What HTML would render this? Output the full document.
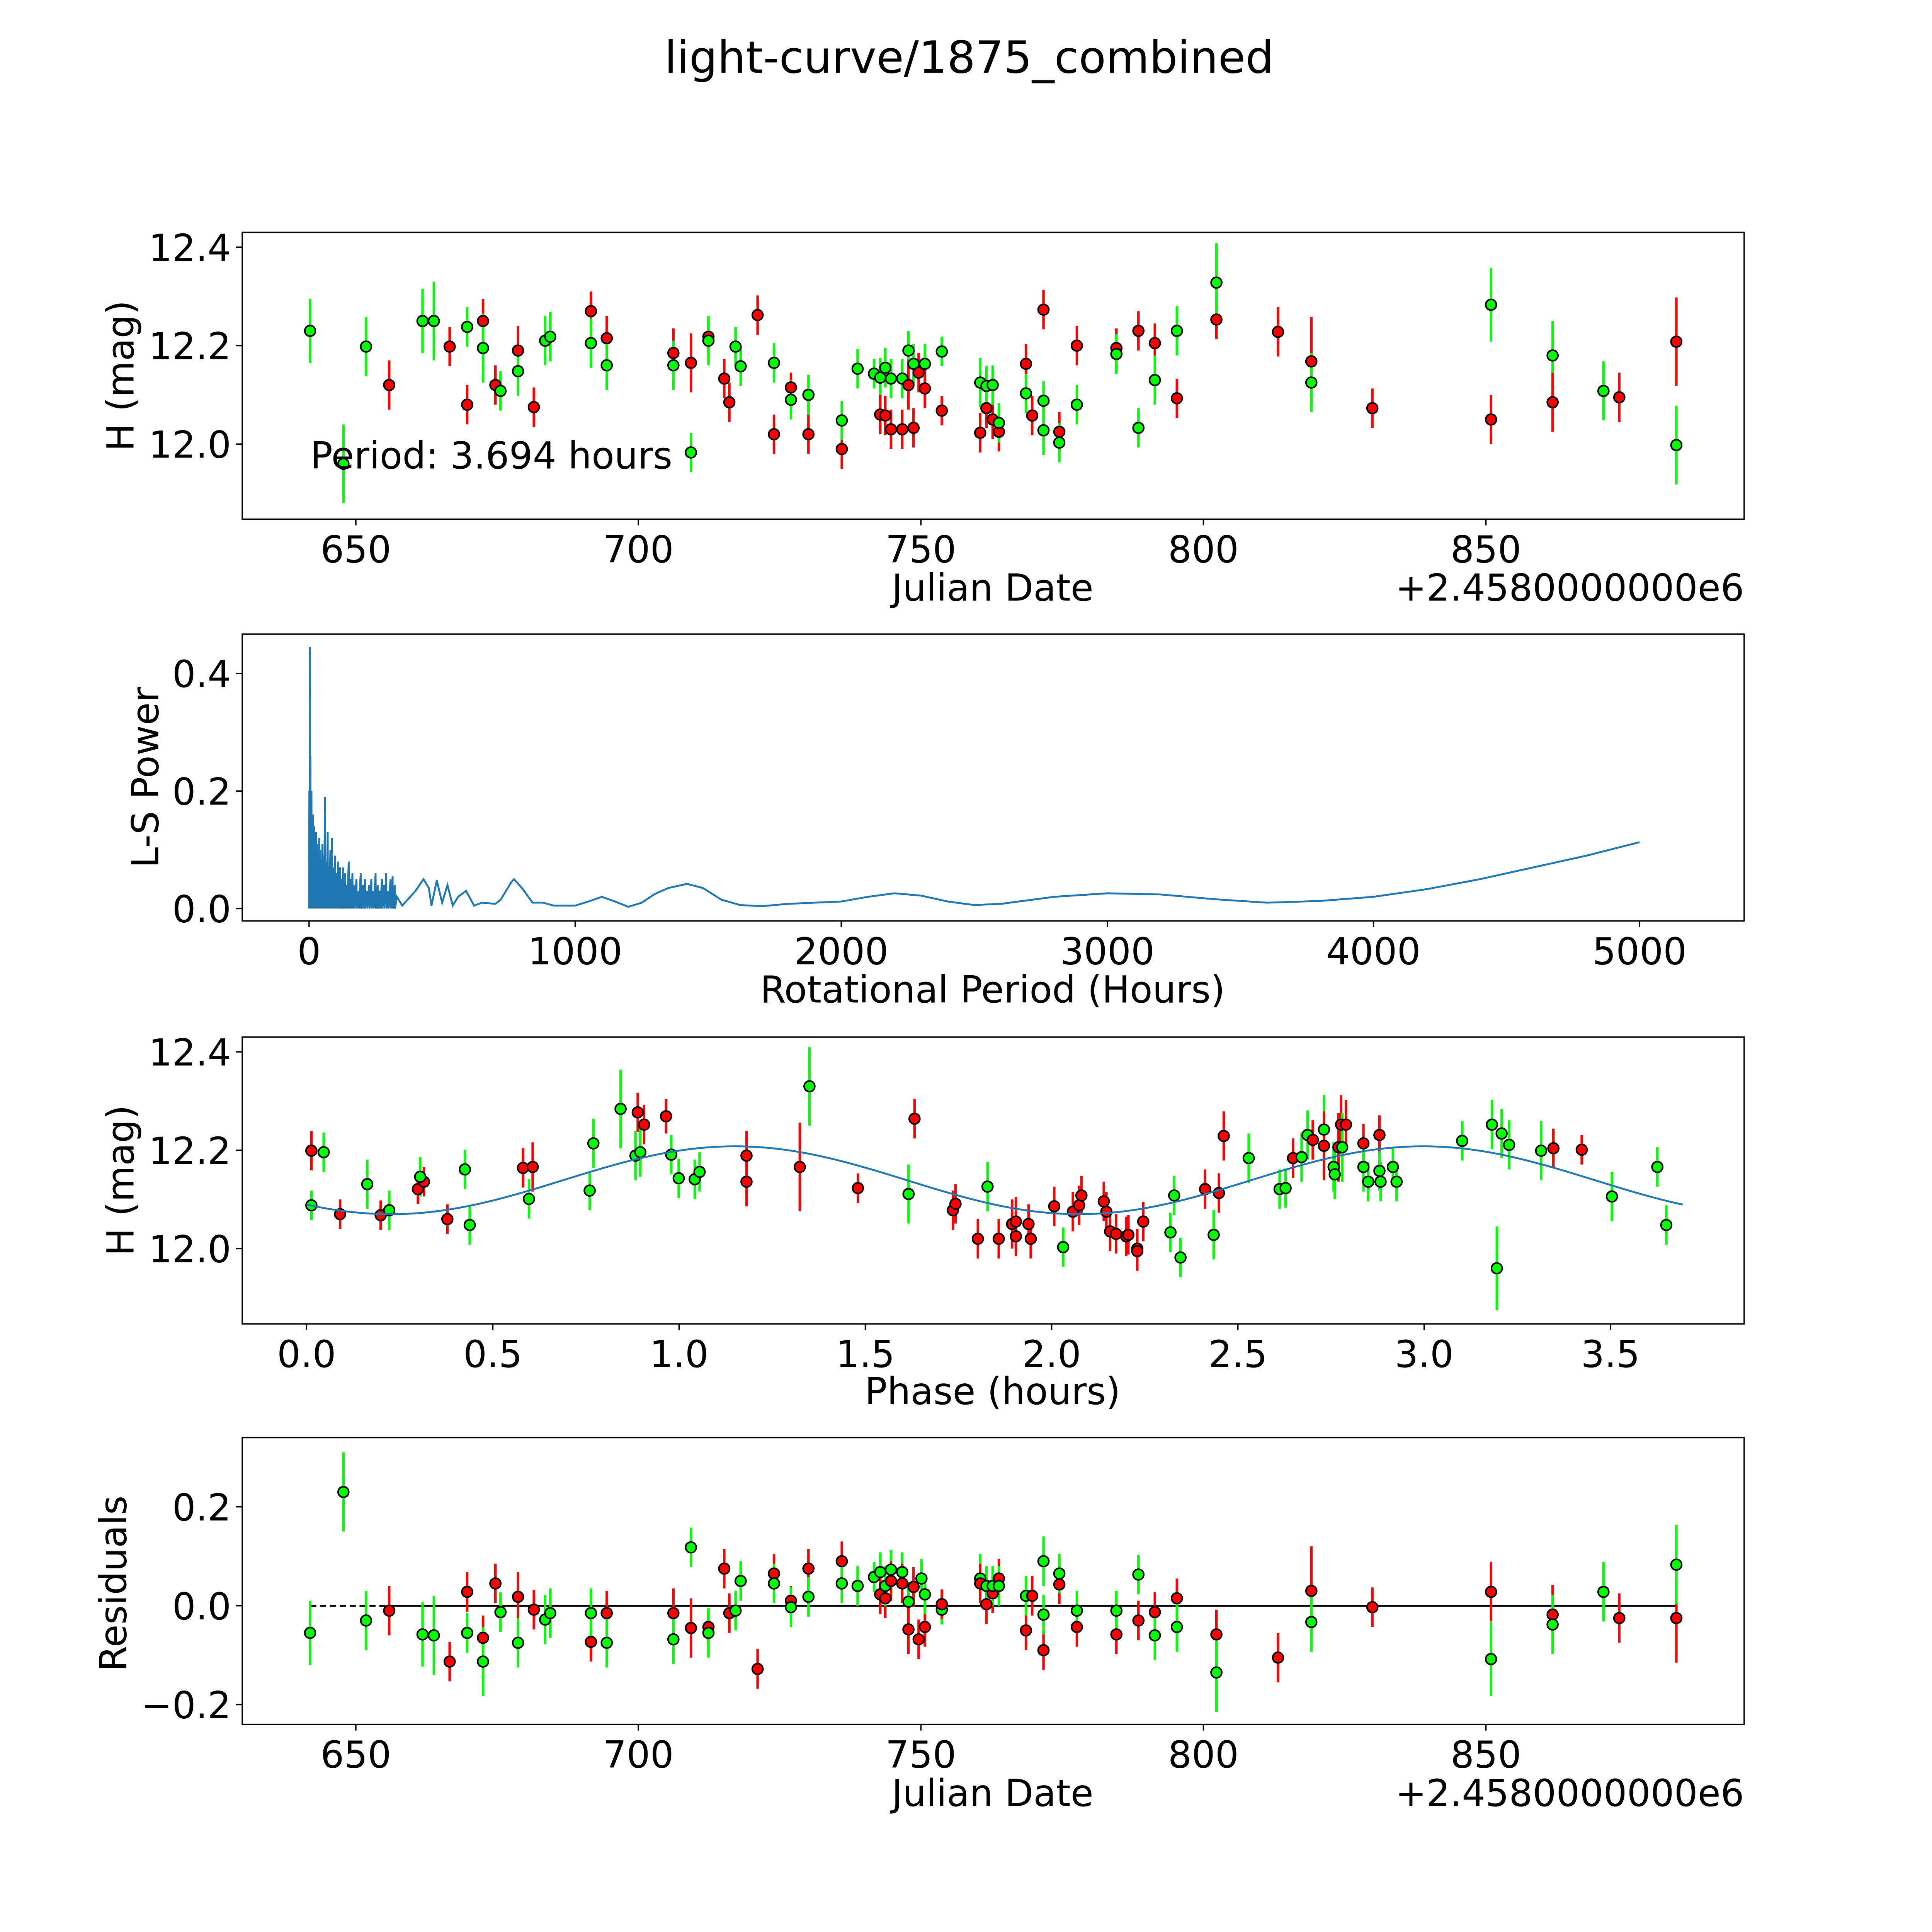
<!DOCTYPE html>
<html><head><meta charset="utf-8"><style>
html,body{margin:0;padding:0;background:#fff;overflow:hidden;width:5400px;height:5400px;}
svg{display:block;}
text{font-family:"DejaVu Sans","Liberation Sans",sans-serif;fill:#000;}
</style></head><body>
<svg id="fig" xmlns="http://www.w3.org/2000/svg" width="5400" height="5400" viewBox="0 0 1688 1688">
<rect width="1688" height="1688" fill="#fff"/>
<text x="784" y="59" font-size="36" text-anchor="middle">light-curve/1875_combined</text>
</svg>
<script>
// ---------- Panel 1: light curve ----------
const jd=[641.9,647.8,651.8,655.9,661.8,663.8,666.6,669.7,669.7,672.5,672.5,674.7,675.6,678.7,678.7,681.5,683.5,684.4,691.6,691.6,694.4,694.4,706.2,706.2,709.3,709.3,712.4,712.4,715.2,716.1,717.2,718.1,721.1,724.0,724.0,727.0,727.0,730.1,730.1,736.0,736.0,738.8,741.7,742.8,742.8,743.7,743.7,744.7,744.7,746.7,746.7,747.8,747.8,748.7,748.7,749.6,750.7,750.7,753.7,753.7,760.5,760.5,761.6,761.6,762.7,762.7,763.8,763.8,768.6,768.6,769.7,771.7,771.7,771.7,774.5,774.5,777.6,777.6,784.6,784.6,788.5,788.5,791.4,791.4,795.3,795.3,802.3,802.3,813.2,819.1,819.1,829.9,850.9,850.9,861.8,861.8,870.8,873.6,883.7,883.7];
const mag=[12.23,11.96,12.198,12.12,12.25,12.25,12.198,12.08,12.238,12.25,12.195,12.12,12.108,12.19,12.148,12.075,12.21,12.218,12.27,12.205,12.215,12.16,12.185,12.16,12.165,11.983,12.218,12.21,12.133,12.085,12.198,12.158,12.262,12.02,12.165,12.115,12.09,12.02,12.1,11.99,12.048,12.153,12.143,12.135,12.06,12.155,12.058,12.133,12.03,12.133,12.03,12.19,12.12,12.163,12.033,12.145,12.163,12.113,12.188,12.068,12.125,12.023,12.073,12.118,12.05,12.12,12.025,12.043,12.163,12.103,12.058,12.273,12.088,12.028,12.025,12.003,12.2,12.08,12.195,12.183,12.23,12.033,12.205,12.13,12.093,12.23,12.253,12.328,12.228,12.168,12.125,12.073,12.283,12.05,12.18,12.085,12.108,12.095,12.208,11.998];
const magErr=[0.065,0.08,0.06,0.05,0.065,0.08,0.04,0.04,0.04,0.045,0.07,0.04,0.04,0.05,0.05,0.04,0.05,0.05,0.04,0.05,0.045,0.05,0.05,0.05,0.06,0.04,0.035,0.05,0.04,0.04,0.04,0.04,0.04,0.04,0.04,0.03,0.04,0.04,0.04,0.04,0.04,0.04,0.03,0.04,0.04,0.04,0.04,0.04,0.04,0.04,0.04,0.04,0.05,0.04,0.04,0.04,0.04,0.04,0.03,0.03,0.05,0.04,0.04,0.04,0.04,0.04,0.04,0.04,0.04,0.04,0.04,0.04,0.04,0.05,0.04,0.04,0.04,0.04,0.04,0.04,0.04,0.04,0.04,0.05,0.04,0.05,0.04,0.08,0.05,0.09,0.06,0.04,0.075,0.05,0.07,0.06,0.06,0.05,0.09,0.08];
const magCol=['g','g','g','r','g','g','r','r','g','r','g','r','g','r','g','r','g','g','r','g','r','g','r','g','r','g','r','g','r','r','g','g','r','r','g','r','g','r','g','r','g','g','g','g','r','g','r','g','r','g','r','g','r','g','r','r','g','r','g','r','g','r','r','g','r','g','r','g','r','g','r','r','g','g','r','g','r','g','r','g','r','g','r','g','r','g','r','g','r','r','g','r','g','r','g','r','g','r','r','g'];

// ---------- Panel 2: periodogram ----------
const spikePeriods=[1,3,5,7,9,11,14,17,20,23,26,30,34,38,42,46,50,55,60,65,70,75,80,86,92,98,104,110,116,122,128,135,142,149,156,163,170,178,186,194,202,210,218,226,234,242,250,258,266,274,282,290,298,306,314,322];
const spikePower=[0.2,0.445,0.26,0.17,0.2,0.13,0.16,0.12,0.14,0.1,0.13,0.11,0.09,0.12,0.1,0.08,0.11,0.09,0.19,0.08,0.13,0.07,0.1,0.12,0.07,0.09,0.06,0.08,0.07,0.05,0.07,0.06,0.04,0.08,0.05,0.06,0.04,0.05,0.03,0.06,0.04,0.05,0.03,0.04,0.05,0.03,0.06,0.04,0.03,0.05,0.04,0.06,0.03,0.05,0.055,0.04];
const lsPeriod=[330,350,400,430,450,460,480,500,520,540,560,590,620,650,700,720,760,770,800,840,880,920,960,1000,1050,1100,1150,1200,1250,1300,1350,1420,1480,1550,1620,1700,1800,1900,2000,2100,2200,2300,2400,2500,2600,2800,3000,3200,3400,3600,3800,4000,4200,4400,4600,4800,5000];
const lsPower=[0.02,0.005,0.03,0.05,0.035,0.005,0.048,0.01,0.04,0.005,0.02,0.03,0.005,0.01,0.008,0.015,0.045,0.05,0.035,0.01,0.01,0.005,0.005,0.005,0.012,0.02,0.012,0.003,0.01,0.025,0.035,0.042,0.035,0.015,0.006,0.004,0.008,0.01,0.012,0.02,0.026,0.022,0.012,0.006,0.008,0.02,0.026,0.024,0.016,0.01,0.013,0.02,0.033,0.05,0.07,0.09,0.113];

// ---------- Panel 3: phase-folded ----------
const phase=[0.013,0.046,0.013,0.090,0.163,0.199,0.222,0.299,0.315,0.305,0.378,0.425,0.438,0.581,0.607,0.597,0.760,0.770,0.843,0.889,0.906,0.883,0.896,0.965,0.979,0.999,1.042,1.055,1.181,1.181,1.324,1.350,1.480,1.616,1.632,1.735,1.742,1.828,1.802,1.858,1.894,1.904,1.904,1.938,1.944,2.007,2.031,2.057,2.074,2.080,2.140,2.147,2.157,2.173,2.200,2.206,2.230,2.230,2.246,2.319,2.329,2.346,2.412,2.435,2.449,2.462,2.529,2.612,2.628,2.648,2.671,2.687,2.701,2.731,2.731,2.757,2.760,2.770,2.777,2.790,2.780,2.837,2.837,2.850,2.880,2.880,2.883,2.916,2.926,3.102,3.182,3.195,3.208,3.228,3.314,3.347,3.423,3.504,3.626,3.650];
const phaseMag=[12.199,12.196,12.088,12.070,12.131,12.068,12.078,12.121,12.136,12.146,12.060,12.161,12.048,12.164,12.166,12.101,12.118,12.214,12.284,12.277,12.252,12.189,12.196,12.269,12.191,12.143,12.141,12.156,12.189,12.136,12.166,12.330,12.123,12.111,12.264,12.078,12.091,12.126,12.020,12.020,12.050,12.055,12.025,12.050,12.020,12.086,12.003,12.075,12.088,12.108,12.096,12.075,12.035,12.030,12.025,12.028,12.000,11.995,12.055,12.033,12.108,11.982,12.121,12.028,12.113,12.229,12.184,12.121,12.123,12.184,12.186,12.231,12.221,12.242,12.209,12.166,12.151,12.206,12.252,12.252,12.206,12.214,12.166,12.136,12.231,12.158,12.136,12.166,12.136,12.219,12.252,11.960,12.234,12.211,12.199,12.204,12.201,12.106,12.166,12.048];
const phaseErr=[0.04,0.04,0.03,0.03,0.05,0.03,0.04,0.03,0.03,0.04,0.03,0.04,0.04,0.04,0.05,0.04,0.04,0.05,0.08,0.04,0.04,0.05,0.05,0.035,0.04,0.04,0.04,0.04,0.05,0.05,0.09,0.08,0.03,0.06,0.04,0.04,0.04,0.05,0.04,0.04,0.05,0.05,0.04,0.04,0.04,0.04,0.04,0.04,0.04,0.04,0.04,0.04,0.04,0.04,0.04,0.04,0.04,0.04,0.04,0.04,0.04,0.04,0.04,0.05,0.04,0.05,0.05,0.04,0.04,0.04,0.05,0.05,0.04,0.07,0.07,0.05,0.05,0.07,0.06,0.05,0.07,0.04,0.05,0.04,0.04,0.04,0.04,0.04,0.04,0.04,0.05,0.085,0.05,0.05,0.06,0.04,0.03,0.05,0.04,0.04];
const phaseCol=['r','g','g','r','g','r','g','r','r','g','r','g','g','r','r','g','g','g','g','r','r','g','g','r','g','g','g','g','r','r','r','g','r','g','r','r','r','g','r','r','r','r','r','r','r','r','g','r','r','r','r','r','r','r','r','r','r','r','r','g','g','g','r','g','r','r','g','g','g','r','g','g','r','g','r','g','g','r','r','r','g','r','g','g','r','g','g','g','g','g','g','g','g','g','g','r','r','g','g','g'];
const modelMean=12.139, modelAmp=0.069, modelPeak=1.15, modelHalfPeriod=1.847, foldPeriod=3.694;

// ---------- Panel 4: residuals ----------
const resJd=[641.9,647.8,651.8,655.9,661.8,663.8,666.6,669.7,669.7,672.5,672.5,674.7,675.6,678.7,678.7,681.5,683.5,684.4,691.6,691.6,694.4,694.4,706.2,706.2,709.3,709.3,712.4,712.4,715.2,716.1,717.2,718.1,721.1,724,724,727,727,730.1,730.1,736,736,738.8,741.7,742.8,742.8,743.7,743.7,744.7,744.7,746.7,746.7,747.8,747.8,748.7,749.6,750.1,750.7,750.7,753.7,753.7,760.5,760.5,761.6,761.6,762.7,762.7,763.8,763.8,768.6,768.6,769.7,771.7,771.7,771.7,774.5,774.5,777.6,777.6,784.6,784.6,788.5,788.5,791.4,791.4,795.3,795.3,802.3,802.3,813.2,819.1,819.1,829.9,850.9,850.9,861.8,861.8,870.8,873.6,883.7,883.7];
const resVal=[-0.055,0.23,-0.03,-0.01,-0.058,-0.06,-0.113,0.028,-0.055,-0.065,-0.113,0.045,-0.013,0.018,-0.075,-0.008,-0.028,-0.015,-0.073,-0.015,-0.015,-0.075,-0.015,-0.068,-0.045,0.118,-0.043,-0.055,0.075,-0.015,-0.01,0.05,-0.128,0.065,0.045,0.01,-0.003,0.075,0.018,0.09,0.045,0.04,0.058,0.068,0.023,0.015,0.04,0.073,0.05,0.068,0.045,0.008,-0.048,0.038,-0.068,0.055,-0.043,0.023,-0.008,0.003,0.055,0.045,0.003,0.04,0.025,0.04,0.055,0.04,-0.05,0.02,0.02,-0.09,0.09,-0.018,0.043,0.065,-0.043,-0.01,-0.058,-0.01,-0.03,0.063,-0.013,-0.06,0.015,-0.043,-0.058,-0.135,-0.105,0.03,-0.033,-0.003,0.028,-0.108,-0.018,-0.038,0.028,-0.025,-0.025,0.083];
const resErr=[0.065,0.08,0.06,0.05,0.065,0.08,0.04,0.04,0.04,0.045,0.07,0.04,0.04,0.05,0.05,0.04,0.05,0.05,0.04,0.05,0.045,0.05,0.05,0.05,0.06,0.04,0.035,0.05,0.04,0.04,0.04,0.04,0.04,0.04,0.04,0.03,0.04,0.04,0.04,0.04,0.04,0.04,0.03,0.04,0.04,0.04,0.04,0.04,0.04,0.04,0.04,0.04,0.05,0.04,0.04,0.04,0.04,0.04,0.03,0.03,0.05,0.04,0.04,0.04,0.04,0.04,0.04,0.04,0.04,0.04,0.04,0.04,0.05,0.04,0.04,0.04,0.04,0.04,0.04,0.04,0.04,0.04,0.04,0.05,0.04,0.05,0.05,0.08,0.05,0.09,0.06,0.04,0.06,0.075,0.06,0.06,0.06,0.05,0.09,0.08];
const resCol=['g','g','g','r','g','g','r','r','g','r','g','r','g','r','g','r','g','g','r','g','r','g','r','g','r','g','r','g','r','r','g','g','r','r','g','r','g','r','g','r','g','g','g','g','r','r','g','g','r','g','r','g','r','r','r','g','r','g','g','r','g','r','r','g','r','g','r','g','r','g','r','r','g','g','r','g','r','g','r','g','r','g','r','g','r','g','r','g','r','r','g','r','r','g','r','g','g','r','r','g'];

const xTicksJd=[650,700,750,800,850];
const yTicksMag=[12.0,12.2,12.4];
const xTicksLs=[0,1000,2000,3000,4000,5000];
const yTicksLs=[0.0,0.2,0.4];
const xTicksPhase=[0,0.5,1,1.5,2,2.5,3,3.5];
const yTicksRes=[-0.2,0.0,0.2];

const NS='http://www.w3.org/2000/svg';
const svg=document.getElementById('fig');
function mk(tag,attrs,parent){const e=document.createElementNS(NS,tag);for(const k in attrs)e.setAttribute(k,attrs[k]);(parent||svg).appendChild(e);return e;}
const COL={r:'#ff0000',g:'#00ff00'};
const L=196,R=1411,H=232,FS=30;

function makeAxis(name,top,xmin,xmax,ymin,ymax){
  const g=mk('g',{});
  
  
  const ax={g,top,bot:top+H,
    x:v=>L+(v-xmin)/(xmax-xmin)*(R-L),
    y:v=>top+H-(v-ymin)/(ymax-ymin)*H};
  return ax;
}
function frame(ax){
  const r=mk('rect',{x:L,y:ax.top,width:R-L,height:H,fill:'none',stroke:'#000','stroke-width':1.1},ax.g);
  
  
}
function ticks(ax,xt,xfmt,yt,yfmt){
  xt.forEach(v=>{const px=ax.x(v);
    mk('line',{x1:px,x2:px,y1:ax.bot,y2:ax.bot+5,stroke:'#000','stroke-width':1.1},ax.g);
    const t=mk('text',{x:px,y:ax.bot+35,'font-size':FS,'text-anchor':'middle'},ax.g);t.textContent=xfmt(v);
    
    });
  yt.forEach(v=>{const py=ax.y(v);
    mk('line',{x1:L-5,x2:L,y1:py,y2:py,stroke:'#000','stroke-width':1.1},ax.g);
    const t=mk('text',{x:L-9,y:py+11,'font-size':FS,'text-anchor':'end'},ax.g);t.textContent=yfmt(v);
    
    });
}
function label(ax,txt,x,y,rot,name,anchor){
  const t=mk('text',{x,y,'font-size':FS,'text-anchor':anchor||'middle'},ax.g);
  if(rot)t.setAttribute('transform','rotate(-90 '+x+' '+y+')');
  t.textContent=txt;
  
  
}
function errPoints(ax,xs,ys,es,cs,name){
  const g=mk('g',{},ax.g);
  
  
  xs.forEach((v,i)=>{const px=ax.x(v);
    const l=mk('line',{x1:px,x2:px,y1:ax.y(ys[i]-es[i]),y2:ax.y(ys[i]+es[i]),stroke:COL[cs[i]],'stroke-width':2},g);
    
    });
  xs.forEach((v,i)=>{
    const c=mk('circle',{cx:ax.x(v),cy:ax.y(ys[i]),r:4.3,fill:COL[cs[i]],stroke:'#000','stroke-width':1.3},g);
    
    });
}
const f1=v=>v.toFixed(1), f0=v=>String(v), fm=v=>(v<0?'\u2212':'')+Math.abs(v).toFixed(1);

// Panel 1
const a1=makeAxis('light-curve-panel',188,629.9,895.7,11.8475,12.43);
frame(a1);ticks(a1,xTicksJd,f0,yTicksMag,f1);
errPoints(a1,jd,mag,magErr,magCol,'light-curve-points');
label(a1,'Period: 3.694 hours',251,379,false,'period-annotation','start');
label(a1,'Julian Date',803,486,false,'x-axis-title');
label(a1,'+2.4580000000e6',1411,486,false,'x-offset-text','end');
label(a1,'H (mag)',108,304,true,'y-axis-title');

// Panel 2
const a2=makeAxis('periodogram-panel',513,-251,5393,-0.021,0.467);
frame(a2);ticks(a2,xTicksLs,f0,yTicksLs,f1);
let pts=[[0,0]];
spikePeriods.forEach((p,i)=>{pts.push([p,spikePower[i]]);pts.push([p+1,0]);});
lsPeriod.forEach((p,i)=>pts.push([p,lsPower[i]]));
const pl=mk('polyline',{points:pts.map(q=>a2.x(q[0]).toFixed(2)+','+a2.y(q[1]).toFixed(2)).join(' '),fill:'none',stroke:'#1f77b4','stroke-width':1.5},a2.g);


label(a2,'Rotational Period (Hours)',803,811,false,'x-axis-title');
label(a2,'L-S Power',128,629,true,'y-axis-title');

// Panel 3
const a3=makeAxis('phase-folded-panel',839,-0.1725,3.859,11.847,12.430);
frame(a3);ticks(a3,xTicksPhase,f1,yTicksMag,f1);
let mp=[];
for(let i=0;i<=200;i++){const p=foldPeriod*i/200;mp.push(a3.x(p).toFixed(2)+','+a3.y(modelMean+modelAmp*Math.cos(2*Math.PI*(p-modelPeak)/modelHalfPeriod)).toFixed(2));}
errPoints(a3,phase,phaseMag,phaseErr,phaseCol,'phase-points');
const ml=mk('polyline',{points:mp.join(' '),fill:'none',stroke:'#1f77b4','stroke-width':1.5},a3.g);


label(a3,'Phase (hours)',803,1136,false,'x-axis-title');
label(a3,'H (mag)',108,955,true,'y-axis-title');

// Panel 4
const a4=makeAxis('residuals-panel',1163,629.9,895.7,-0.24,0.34);
frame(a4);ticks(a4,xTicksJd,f0,yTicksRes,fm);
const z=a4.y(0);
const d1=mk('line',{x1:a4.x(641.9),x2:a4.x(655.9),y1:z,y2:z,stroke:'#000','stroke-width':1.5,'stroke-dasharray':'5,3'},a4.g);


const d2=mk('line',{x1:a4.x(655.9),x2:a4.x(883.7),y1:z,y2:z,stroke:'#000','stroke-width':1.5},a4.g);


errPoints(a4,resJd,resVal,resErr,resCol,'residual-points');
label(a4,'Julian Date',803,1461,false,'x-axis-title');
label(a4,'+2.4580000000e6',1411,1461,false,'x-offset-text','end');
label(a4,'Residuals',102,1281,true,'y-axis-title');
</script>
</body></html>
